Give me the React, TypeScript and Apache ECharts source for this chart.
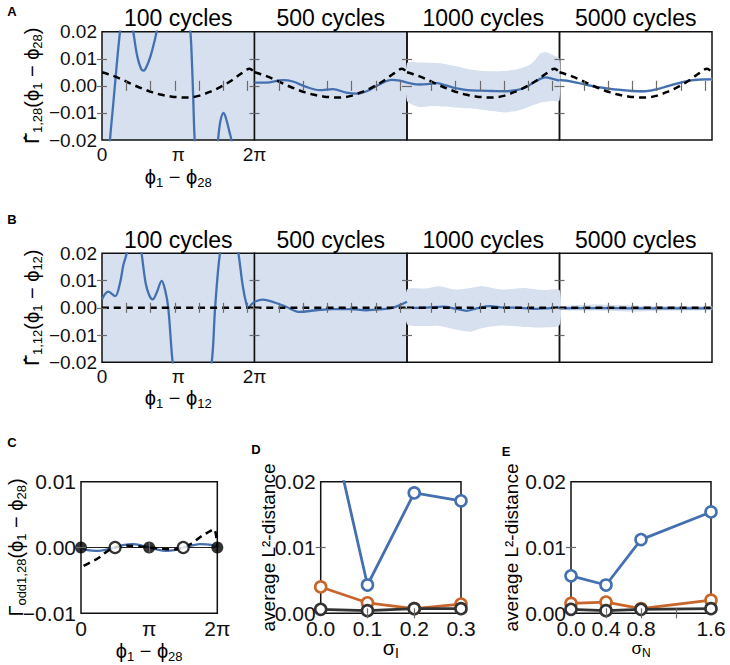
import React, { useEffect, useRef } from "react";
import * as echarts from "echarts";

const PI = Math.PI;
const TWO_PI = 2 * Math.PI;

// ---------- Panel A: Γ̂1,28 ----------
const A_TRUE_X = [0, 0.26, 0.52, 0.79, 1.05, 1.31, 1.57, 1.83, 2.09, 2.36, 2.62, 2.88, 3.14, 3.4, 3.67, 3.93, 4.19, 4.45, 4.71, 4.97, 5.24, 5.5, 5.76, 6.08, 6.2832];
const A_TRUE_Y = [0.005, 0.0043, 0.0035, 0.0025, 0.0014, 0.0003, -0.0007, -0.0016, -0.0024, -0.0031, -0.0036, -0.004, -0.0042, -0.0043, -0.0042, -0.0038, -0.0031, -0.0022, -0.0012, 0.0, 0.0014, 0.003, 0.0047, 0.0063, 0.005];

const A100_X = [0, 0.2, 0.33, 0.45, 0.55, 0.65, 0.74, 0.85, 1.0, 1.15, 1.29, 1.45, 1.6, 1.7, 1.82, 2.0, 2.15, 2.25, 2.5, 3.0, 3.4, 3.55, 3.64, 3.7, 3.76, 3.82, 4.0, 4.4, 4.7, 4.78, 4.88, 5.01, 5.14, 5.25, 5.33, 5.6, 6.2832];
const A100_Y = [-0.08, -0.04, -0.02, -0.008, 0.002, 0.012, 0.02, 0.03, 0.035, 0.028, 0.02, 0.011, 0.0065, 0.0056, 0.0068, 0.011, 0.016, 0.02, 0.03, 0.04, 0.032, 0.024, 0.02, 0.01, -0.005, -0.02, -0.04, -0.045, -0.027, -0.02, -0.013, -0.01, -0.013, -0.017, -0.02, -0.04, -0.06];

const A500_X = [0, 0.48, 1.17, 1.58, 2.13, 2.68, 3.23, 3.78, 4.2, 4.62, 5.17, 5.65, 5.99, 6.2832];
const A500_Y = [0.0012, 0.0012, 0.0021, 0.0016, -0.0004, -0.0016, -0.0012, -0.0025, -0.0029, -0.002, 0.0006, 0.0022, 0.0019, 0.0012];

const A1000_X = [0, 0.5, 0.9, 1.2, 1.6, 2.0, 2.5, 3.0, 3.5, 4.0, 4.5, 4.9, 5.3, 5.7, 6.0, 6.2832];
const A1000_Y = [0.0012, 0.0005, 0.0007, 0.001, 0.0002, -0.0008, -0.0016, -0.0018, -0.0019, -0.002, -0.0016, -0.0005, 0.0017, 0.0031, 0.0026, 0.0019];
const A1000_BAND_X = [0, 0.5, 1.0, 1.5, 2.0, 2.5, 3.0, 3.5, 4.0, 4.5, 5.0, 5.25, 5.5, 5.75, 6.0, 6.2832];
const A1000_UP = [0.0084, 0.0086, 0.0085, 0.0082, 0.0073, 0.0062, 0.0056, 0.0054, 0.0055, 0.006, 0.0075, 0.0092, 0.012, 0.0124, 0.0114, 0.01];
const A1000_LO = [-0.0056, -0.0078, -0.0074, -0.0076, -0.008, -0.0083, -0.0087, -0.0093, -0.0098, -0.0093, -0.0078, -0.0069, -0.0062, -0.0058, -0.0056, -0.0054];

const A5000_X = [0, 0.5, 1.0, 1.5, 2.0, 2.5, 3.0, 3.5, 4.0, 4.5, 5.0, 5.5, 6.0, 6.2832];
const A5000_Y = [0.0022, 0.0016, 0.0006, -0.0004, -0.001, -0.0015, -0.0019, -0.002, -0.0013, 0.0, 0.0012, 0.0021, 0.0024, 0.0024];
const A5000_UP = [0.0027, 0.0021, 0.0011, 0.0001, -0.0005, -0.001, -0.0014, -0.0015, -0.0008, 0.0005, 0.0017, 0.0026, 0.0029, 0.0029];
const A5000_LO = [0.0017, 0.0011, 0.0001, -0.0009, -0.0015, -0.002, -0.0024, -0.0025, -0.0018, -0.0005, 0.0007, 0.0016, 0.0019, 0.0019];

// ---------- Panel B: Γ̂1,12 ----------
const B_TRUE_X = [0, 6.2832];
const B_TRUE_Y = [0, 0];

const B100_X = [0, 0.26, 0.54, 0.74, 0.88, 1.02, 1.15, 1.35, 1.5, 1.63, 1.8, 1.95, 2.09, 2.25, 2.46, 2.6, 2.73, 2.91, 3.2, 3.8, 4.2, 4.52, 4.66, 4.86, 5.1, 5.4, 5.62, 5.8, 5.96, 6.03, 6.15, 6.2832];
const B100_Y = [0.0031, 0.0059, 0.0043, 0.009, 0.0157, 0.02, 0.026, 0.03, 0.027, 0.02, 0.009, 0.0045, 0.0031, 0.0055, 0.0099, 0.0065, 0.0, -0.02, -0.04, -0.05, -0.035, -0.02, 0.0, 0.02, 0.03, 0.03, 0.02, 0.008, 0.001, 0.0, 0.0012, 0.0022];

const B500_X = [0, 0.34, 0.75, 1.3, 1.85, 2.54, 3.22, 3.91, 4.6, 5.17, 5.72, 6.2832];
const B500_Y = [0.0022, 0.003, 0.0022, 0.0004, -0.0015, -0.0009, -0.0005, -0.0005, -0.0009, -0.0006, 0.0001, 0.0022];

const B1000_X = [0, 0.8, 1.49, 2.04, 2.45, 2.87, 3.42, 3.97, 4.66, 5.34, 5.9, 6.2832];
const B1000_Y = [0.0, 0.0001, 0.0004, -0.0004, -0.0011, -0.0002, 0.0006, 0.0001, 0.0, -0.0004, -0.0001, 0.0001];
const B1000_BAND_X = [0, 0.8, 1.3, 2.0, 2.6, 3.1, 3.9, 4.8, 5.6, 6.2832];
const B1000_UP = [0.0067, 0.0071, 0.0079, 0.0067, 0.0073, 0.0079, 0.0067, 0.0073, 0.0065, 0.0065];
const B1000_LO = [-0.006, -0.0067, -0.0066, -0.008, -0.0088, -0.0074, -0.0065, -0.007, -0.0072, -0.0064];

const B5000_X = [0, 1.5, 3.0, 4.5, 6.2832];
const B5000_Y = [-0.0002, -0.0001, -0.0002, -0.0002, -0.0002];
const B5000_UP = [0.0005, 0.0012, 0.0008, 0.0006, 0.0005];
const B5000_LO = [-0.0008, -0.001, -0.0014, -0.001, -0.0008];

// ---------- Panel C: Γodd1,28 ----------
const C_EST_X = [0, 0.3, 0.8, 1.2, 1.57, 2.0, 2.4, 2.8, 3.14, 3.5, 3.9, 4.3, 4.71, 5.1, 5.5, 6.0, 6.2832];
const C_EST_Y = [0, -0.0004, -0.0005, -0.0003, 0, 0.0004, 0.0005, 0.0003, 0, -0.0003, -0.0005, -0.0004, 0, 0.0003, 0.0005, 0.0004, 0];
const C_TRUE_X = [0.12, 0.35, 0.8, 1.2, 1.57, 2.0, 2.5, 3.14, 3.8, 4.3, 4.71, 5.1, 5.5, 5.9, 6.13, 6.2832];
const C_TRUE_Y = [-0.0028, -0.0024, -0.0016, -0.0006, 0.0, 0.0003, 0.0002, 0.0, -0.0002, -0.0003, 0.0, 0.0006, 0.0016, 0.0024, 0.0028, 0.0];
const C_STABLE_X = [0, PI, TWO_PI];
const C_UNSTABLE_X = [PI / 2, (3 * PI) / 2];

// ---------- Panel D & E: average L2 distance ----------
const D_X = [0.0, 0.1, 0.2, 0.3];
const D_BLUE = [0.0356, 0.0043, 0.0183, 0.0171];
const D_ORANGE = [0.004, 0.0016, 0.0007, 0.0014];
const D_DARK = [0.0006, 0.0004, 0.0007, 0.0007];

const E_X = [0.0, 0.4, 0.8, 1.6];
const E_BLUE = [0.0057, 0.0043, 0.0112, 0.0154];
const E_ORANGE = [0.0015, 0.0017, 0.0007, 0.002];
const E_DARK = [0.0006, 0.0004, 0.0006, 0.0007];

const CYCLES = ["100 cycles", "500 cycles", "1000 cycles", "5000 cycles"];

// ---------- styling ----------
const FONT = "'Liberation Sans', Arial, Helvetica, sans-serif";
const HATFONT = "'DejaVu Sans', 'Liberation Sans', sans-serif";
const BLUE = "#4470b0";
const ORANGE = "#c8652a";
const DARK = "#333333";
const BAND = "#d6e0ee";

const pairs = (xs: number[], ys: number[]) => xs.map((x, i) => [x, ys[i]]);
const fmtPi = (v: number) => (Math.abs(v) < 1e-6 ? "0" : Math.abs(v - PI) < 1e-6 ? "π" : "2π");
const fmt2 = (v: number) => (v < -1e-9 ? "−" : "") + Math.abs(v).toFixed(2);
const fmt1 = (v: number) => v.toFixed(1);

const richName = (n: number, s: number) => ({
  color: "#000",
  fontFamily: FONT,
  fontSize: n,
  rich: {
    n: { fontSize: n, fontFamily: FONT, lineHeight: n + 4, color: "#000" },
    h: { fontSize: n, fontFamily: HATFONT, lineHeight: n + 4, color: "#000" },
    s: { fontSize: s, fontFamily: FONT, lineHeight: s, verticalAlign: "bottom", color: "#000" },
  },
});

const A_LEFTS = [102, 254.5, 407, 559.5];
const W4 = 152.5;

function buildOption() {
  const grids: any[] = [];
  const xAxes: any[] = [];
  const yAxes: any[] = [];
  const series: any[] = [];

  const addGrid = (rect: any, bg?: string) => {
    grids.push({
      ...rect,
      show: true,
      borderColor: "#111",
      borderWidth: 1.5,
      backgroundColor: bg || "transparent",
      containLabel: false,
      outerBoundsMode: "none",
    });
    return grids.length - 1;
  };

  const tick = (vals: number[]) => ({
    show: true,
    inside: true,
    length: 5,
    customValues: vals,
    lineStyle: { color: "#6a6a6a", width: 1.2 },
  });

  const addAxes = (g: number, c: any) => {
    const common = { gridIndex: g, z: 10, splitLine: { show: false }, axisLine: { show: false } };
    xAxes.push({
      ...common,
      type: "value",
      position: "bottom",
      min: c.xMin,
      max: c.xMax,
      axisTick: tick(c.xTicks),
      axisLabel: c.xLabels
        ? { show: true, customValues: c.xLabels, formatter: c.xFmt, fontSize: c.fs, fontFamily: FONT, color: "#111", margin: 5 }
        : { show: false },
      name: c.xName || "",
      nameLocation: "middle",
      nameGap: c.xNameGap || 0,
      nameMoveOverlap: false,
      nameTextStyle: c.xNameStyle,
    });
    xAxes.push({
      ...common,
      type: "value",
      position: "top",
      min: c.xMin,
      max: c.xMax,
      axisTick: tick(c.xTicks),
      axisLabel: { show: false },
    });
    yAxes.push({
      ...common,
      type: "value",
      position: "left",
      min: c.yMin,
      max: c.yMax,
      axisTick: tick(c.yTicks),
      axisLabel: c.yLabels
        ? { show: true, customValues: c.yLabels, formatter: fmt2, fontSize: c.fs, fontFamily: FONT, color: "#111", margin: 5 }
        : { show: false },
      name: c.yName || "",
      nameLocation: "middle",
      nameGap: c.yNameGap || 0,
      nameMoveOverlap: false,
      nameTextStyle: c.yNameStyle,
    });
    yAxes.push({
      ...common,
      type: "value",
      position: "right",
      min: c.yMin,
      max: c.yMax,
      axisTick: tick(c.yTicks),
      axisLabel: { show: false },
    });
  };

  const line = (g: number, data: number[][], color: string, width: number, extra: any = {}) => ({
    type: "line",
    xAxisIndex: 2 * g,
    yAxisIndex: 2 * g,
    data,
    symbol: "none",
    smooth: 0.35,
    clip: true,
    lineStyle: { color, width },
    z: 3,
    ...extra,
  });

  const band = (g: number, xs: number[], up: number[], lo: number[]) => ({
    type: "custom",
    xAxisIndex: 2 * g,
    yAxisIndex: 2 * g,
    z: 1,
    silent: true,
    data: xs.map((x, i) => [x, up[i], lo[i]]),
    encode: { x: 0, y: [1, 2] },
    renderItem: (params: any, api: any) => {
      if (params.dataIndex !== 0) return null;
      const top = xs.map((x, i) => api.coord([x, up[i]]));
      const bot = xs.map((x, i) => api.coord([x, lo[i]])).reverse();
      return { type: "polygon", shape: { points: top.concat(bot), smooth: 0.2 }, style: { fill: BAND } };
    },
  });

  const dashed = (g: number, data: number[][]) =>
    line(g, data, "#000", 2.5, { z: 4, lineStyle: { color: "#000", width: 2.5, type: [7, 5] } });

  // --- Panel A & B ---
  const panelAxes = (first: boolean, yName: string, xName: string, xNameGap: number) => ({
    xMin: 0,
    xMax: TWO_PI,
    yMin: -0.02,
    yMax: 0.02,
    xTicks: [1, 2, 3, 4, 5, 6],
    xLabels: first ? [0, PI, TWO_PI] : null,
    xFmt: fmtPi,
    yTicks: [-0.01, 0, 0.01],
    yLabels: first ? [-0.02, -0.01, 0, 0.01, 0.02] : null,
    fs: 19,
    xName: first ? xName : "",
    xNameGap,
    xNameStyle: richName(20, 13),
    yName: first ? yName : "",
    yNameGap: 58,
    yNameStyle: richName(20, 13),
  });

  const aEst = [
    { x: A100_X, y: A100_Y, bg: true },
    { x: A500_X, y: A500_Y, bg: true },
    { x: A1000_X, y: A1000_Y, band: [A1000_BAND_X, A1000_UP, A1000_LO] },
    { x: A5000_X, y: A5000_Y, band: [A5000_X, A5000_UP, A5000_LO] },
  ];
  aEst.forEach((p: any, i) => {
    const g = addGrid({ left: A_LEFTS[i], top: 31.7, width: W4, height: 108.3 }, p.bg ? BAND : undefined);
    addAxes(
      g,
      panelAxes(i === 0, "{h|Γ̂}{s|1,28}{n|(ϕ}{s|1}{n| − ϕ}{s|28}{n|)}", "{n|ϕ}{s|1}{n| − ϕ}{s|28}", 25)
    );
    if (p.band) series.push(band(g, p.band[0], p.band[1], p.band[2]));
    series.push(line(g, pairs(p.x, p.y), BLUE, 2.3));
    series.push(dashed(g, pairs(A_TRUE_X, A_TRUE_Y)));
  });

  const bEst = [
    { x: B100_X, y: B100_Y, bg: true },
    { x: B500_X, y: B500_Y, bg: true },
    { x: B1000_X, y: B1000_Y, band: [B1000_BAND_X, B1000_UP, B1000_LO] },
    { x: B5000_X, y: B5000_Y, band: [B5000_X, B5000_UP, B5000_LO] },
  ];
  bEst.forEach((p: any, i) => {
    const g = addGrid({ left: A_LEFTS[i], top: 253.3, width: W4, height: 109 }, p.bg ? BAND : undefined);
    addAxes(
      g,
      panelAxes(i === 0, "{h|Γ̂}{s|1,12}{n|(ϕ}{s|1}{n| − ϕ}{s|12}{n|)}", "{n|ϕ}{s|1}{n| − ϕ}{s|12}", 24)
    );
    if (p.band) series.push(band(g, p.band[0], p.band[1], p.band[2]));
    series.push(line(g, pairs(p.x, p.y), BLUE, 2.3));
    series.push(dashed(g, pairs(B_TRUE_X, B_TRUE_Y)));
  });

  // --- Panel C ---
  const gC = addGrid({ left: 81, top: 481.7, width: 136.3, height: 131.6 });
  addAxes(gC, {
    xMin: 0,
    xMax: TWO_PI,
    yMin: -0.01,
    yMax: 0.01,
    xTicks: [PI],
    xLabels: [0, PI, TWO_PI],
    xFmt: fmtPi,
    yTicks: [0],
    yLabels: [-0.01, 0, 0.01],
    fs: 21,
    xName: "{n|ϕ}{s|1}{n| − ϕ}{s|28}",
    xNameGap: 26,
    xNameStyle: richName(20, 13),
    yName: "{n|Γ}{s|odd1,28}{n|(ϕ}{s|1}{n| − ϕ}{s|28}{n|)}",
    yNameGap: 53,
    yNameStyle: richName(20, 13),
  });
  series.push(line(gC, [[0, 0], [TWO_PI, 0]], "#222", 1, { smooth: false, z: 2 }));
  series.push(line(gC, pairs(C_EST_X, C_EST_Y), BLUE, 2.3));
  series.push(dashed(gC, pairs(C_TRUE_X, C_TRUE_Y)));
  series.push({
    type: "scatter",
    xAxisIndex: 2 * gC,
    yAxisIndex: 2 * gC,
    data: C_STABLE_X.map((x) => [x, 0]),
    symbolSize: 12,
    itemStyle: { color: "#000" },
    z: 5,
  });
  series.push({
    type: "scatter",
    xAxisIndex: 2 * gC,
    yAxisIndex: 2 * gC,
    data: C_UNSTABLE_X.map((x) => [x, 0]),
    symbolSize: 11,
    itemStyle: { color: "#fff", borderColor: "#000", borderWidth: 2.2 },
    z: 5,
  });

  // --- Panels D & E ---
  const marked = (g: number, xs: number[], ys: number[], color: string, z: number) => ({
    type: "line",
    xAxisIndex: 2 * g,
    yAxisIndex: 2 * g,
    data: pairs(xs, ys),
    symbol: "circle",
    symbolSize: 11,
    clip: true,
    lineStyle: { color, width: 2.8 },
    itemStyle: { color: "#fff", borderColor: color, borderWidth: 2.6 },
    z,
  });

  const gD = addGrid({ left: 320.7, top: 481.7, width: 140.3, height: 131.6 });
  addAxes(gD, {
    xMin: 0,
    xMax: 0.3,
    yMin: 0,
    yMax: 0.02,
    xTicks: [0.1, 0.2],
    xLabels: [0, 0.1, 0.2, 0.3],
    xFmt: fmt1,
    yTicks: [0.01],
    yLabels: [0, 0.01, 0.02],
    fs: 21,
    xName: "{n|σ}{s|I}",
    xNameGap: 23,
    xNameStyle: richName(20, 14),
    yName: "average L²-distance",
    yNameGap: 43,
    yNameStyle: { fontFamily: FONT, fontSize: 19, color: "#000" },
  });
  series.push(marked(gD, D_X, D_BLUE, BLUE, 3));
  series.push(marked(gD, D_X, D_ORANGE, ORANGE, 4));
  series.push(marked(gD, D_X, D_DARK, DARK, 5));

  const gE = addGrid({ left: 571, top: 481.7, width: 140, height: 131.6 });
  addAxes(gE, {
    xMin: 0,
    xMax: 1.6,
    yMin: 0,
    yMax: 0.02,
    xTicks: [0.4, 0.8, 1.2],
    xLabels: [0, 0.4, 0.8, 1.6],
    xFmt: fmt1,
    yTicks: [0.01],
    yLabels: [0, 0.01, 0.02],
    fs: 21,
    xName: "{n|σ}{s|N}",
    xNameGap: 25,
    xNameStyle: richName(17, 12),
    yName: "average L²-distance",
    yNameGap: 50,
    yNameStyle: { fontFamily: FONT, fontSize: 19, color: "#000" },
  });
  series.push(marked(gE, E_X, E_BLUE, BLUE, 3));
  series.push(marked(gE, E_X, E_ORANGE, ORANGE, 4));
  series.push(marked(gE, E_X, E_DARK, DARK, 5));

  // --- texts ---
  const txt = (text: string, x: number, y: number, size: number, bold = false) => ({
    type: "text",
    x,
    y,
    z: 20,
    style: {
      text,
      fontSize: size,
      fontFamily: FONT,
      fontWeight: bold ? "bold" : "normal",
      fill: "#000",
      align: "center",
      verticalAlign: "middle",
    },
  });
  const graphic: any[] = [];
  CYCLES.forEach((t, i) => {
    graphic.push(txt(t, A_LEFTS[i] + W4 / 2, 18, 23));
    graphic.push(txt(t, A_LEFTS[i] + W4 / 2, 240, 23));
  });
  graphic.push(txt("A", 12, 11, 13, true));
  graphic.push(txt("B", 12, 219, 13, true));
  graphic.push(txt("C", 12, 442, 13, true));
  graphic.push(txt("D", 256, 449, 13, true));
  graphic.push(txt("E", 506, 451, 13, true));

  return {
    animation: false,
    backgroundColor: "#fff",
    grid: grids,
    xAxis: xAxes,
    yAxis: yAxes,
    series,
    graphic,
  };
}

export default function App() {
  const ref = useRef<HTMLDivElement>(null);
  useEffect(() => {
    const chart = echarts.init(ref.current!, null, { renderer: "svg" });
    chart.setOption(buildOption() as any);
    return () => chart.dispose();
  }, []);
  return (
    <div
      ref={ref}
      style={{ position: "fixed", left: 0, top: 0, width: 730, height: 665, background: "#fff" }}
    />
  );
}
